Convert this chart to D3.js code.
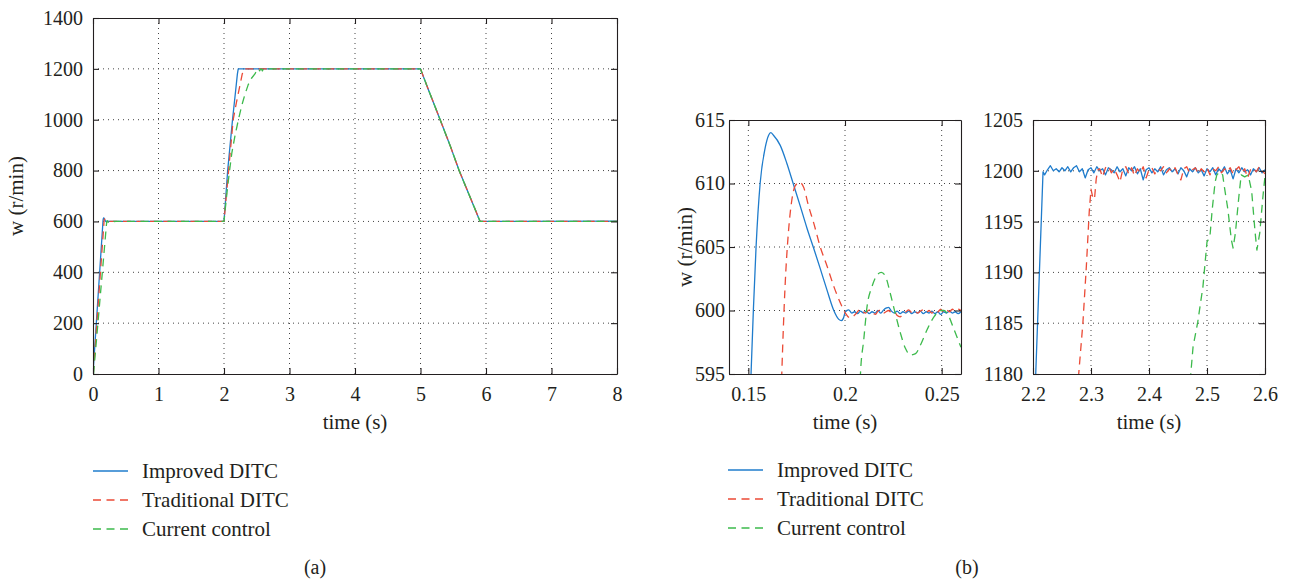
<!DOCTYPE html>
<html>
<head>
<meta charset="utf-8">
<script src="https://cdn.jsdelivr.net/npm/d3@7"></script>
<style>
  html, body { margin: 0; padding: 0; background: #fff; }
  svg { display: block; }
  text { font-family: "Liberation Serif", "DejaVu Serif", serif; fill: #231f20; font-size: 20px; }
  .legend text, .axis-title { font-size: 21px; }
</style>
</head>
<body>
<svg id="fig" width="1293" height="579"></svg>
<script>
// ---------- series names ----------
const seriesNames = ["Improved DITC", "Traditional DITC", "Current control"];

// ---------- panel (a): full speed profile, time (s) vs speed (r/min) ----------
const ticksTimeA = [0, 1, 2, 3, 4, 5, 6, 7, 8];
const ticksSpeedA = [0, 200, 400, 600, 800, 1000, 1200, 1400];

// common deceleration from 1200 to 600 r/min
const rampDownA = [
  [5.0, 1200], [5.1, 1132], [5.2, 1066], [5.3, 1000], [5.45, 900],
  [5.59, 800], [5.75, 700], [5.91, 600]
];

const improvedA = [
  [0, 0], [0.151, 595], [0.154, 605], [0.157, 610], [0.1616, 614], [0.1665, 613],
  [0.1734, 609.9], [0.1838, 604.9], [0.1942, 600], [0.1981, 599.2], [0.2019, 600],
  [0.3, 599.9], [2.0, 600], [2.056, 800], [2.13, 1000], [2.18, 1120],
  [2.2047, 1180], [2.2173, 1200],
  ...rampDownA, [8.0, 601]
];

const traditionalA = [
  [0.004, 0], [0.1673, 595], [0.1707, 606], [0.1765, 610.1], [0.1838, 606.9],
  [0.1942, 601.9], [0.2028, 599.4], [0.21, 600], [0.3, 600], [2.0, 600],
  [2.07, 800], [2.14, 1000], [2.19, 1068], [2.2788, 1180], [2.292, 1190.6],
  [2.30, 1198.2], [2.312, 1200],
  ...rampDownA, [8.0, 600]
];

const currentA = [
  [0.008, 0], [0.2055, 588], [0.208, 595], [0.2114, 600.3], [0.2188, 603],
  [0.2261, 599.7], [0.2339, 596.5], [0.2425, 598.5], [0.2512, 600], [0.2599, 597.2],
  [0.27, 597.3], [0.285, 599.8], [0.3, 600.4], [0.32, 599.8], [0.35, 600],
  [2.0, 600], [2.04, 700], [2.08, 790], [2.12, 870], [2.17, 940], [2.22, 1000],
  [2.27, 1055], [2.32, 1100], [2.37, 1138], [2.42, 1163], [2.472, 1180],
  [2.50, 1193], [2.514, 1199], [2.527, 1199.6], [2.545, 1192.4], [2.559, 1199.6],
  [2.571, 1199.6], [2.586, 1192.2], [2.60, 1199.5], [2.65, 1200],
  ...rampDownA, [8.0, 600]
];

// ---------- panel (b), left: first start-up overshoot ----------
const ticksTimeB1 = [0.15, 0.2, 0.25];
const ticksSpeedB1 = [595, 600, 605, 610, 615];

const improvedB1 = [
  [0.148, 575], [0.1514, 595], [0.1526, 600], [0.1540, 605], [0.1561, 610],
  [0.1587, 612.8], [0.1605, 613.8], [0.1616, 614], [0.1630, 613.8], [0.1665, 613.0],
  [0.1699, 611.6], [0.1734, 609.9], [0.1769, 608.2], [0.1803, 606.5], [0.1838, 604.9],
  [0.1872, 603.3], [0.1907, 601.6], [0.1942, 600.0], [0.1968, 599.3], [0.1981, 599.2],
  [0.1992, 599.4], [0.2002, 599.9], [0.2019, 600.05], [0.2035, 599.8], [0.2050, 599.9],
  [0.2065, 599.75], [0.2080, 599.95], [0.2095, 599.8], [0.2110, 599.95], [0.2125, 599.75],
  [0.2140, 599.9], [0.2155, 599.8], [0.2170, 600.0], [0.2185, 599.8], [0.2200, 600.05],
  [0.2215, 600.2], [0.2225, 600.25], [0.2240, 599.95], [0.2255, 599.8], [0.2270, 599.95],
  [0.2285, 599.75], [0.2300, 599.9], [0.2315, 599.8], [0.2330, 599.95], [0.2345, 599.75],
  [0.2360, 599.9], [0.2375, 599.8], [0.2390, 599.95], [0.2405, 599.75], [0.2420, 599.9],
  [0.2435, 599.8], [0.2450, 599.95], [0.2465, 599.75], [0.2480, 599.9], [0.2495, 599.7],
  [0.2510, 599.9], [0.2525, 599.8], [0.2540, 599.95], [0.2555, 599.8], [0.2570, 599.9],
  [0.2585, 599.75], [0.2600, 599.9]
];

const traditionalB1 = [
  [0.1655, 585], [0.1673, 595], [0.1690, 601.9], [0.1707, 606.1], [0.1725, 608.7],
  [0.1742, 609.8], [0.1765, 610.1], [0.1786, 609.7], [0.1812, 608.2], [0.1838, 606.9],
  [0.1872, 605.0], [0.1907, 603.5], [0.1942, 601.9], [0.1976, 600.6], [0.2002, 599.8],
  [0.2028, 599.4], [0.2054, 599.7], [0.2080, 600.1], [0.2095, 599.9], [0.2106, 599.8],
  [0.2120, 600.0], [0.2131, 600.05], [0.2145, 599.8], [0.2158, 599.7], [0.2170, 599.95],
  [0.2185, 600.05], [0.2200, 599.8], [0.2212, 599.9], [0.2225, 600.0], [0.2240, 599.85],
  [0.2255, 599.9], [0.2270, 599.6], [0.2285, 599.5], [0.2300, 599.7], [0.2315, 599.9],
  [0.2330, 600.05], [0.2345, 599.85], [0.2360, 600.0], [0.2375, 599.8], [0.2390, 599.95],
  [0.2405, 600.05], [0.2420, 599.85], [0.2435, 600.0], [0.2450, 599.8], [0.2465, 600.05],
  [0.2480, 599.9], [0.2495, 600.1], [0.2510, 599.85], [0.2525, 600.05], [0.2540, 599.9],
  [0.2555, 600.1], [0.2570, 599.95], [0.2585, 600.1], [0.2600, 600.0]
];

const currentB1 = [
  [0.2060, 585], [0.2080, 595], [0.2097, 597.7], [0.2114, 600.3], [0.2140, 601.9],
  [0.2166, 602.8], [0.2188, 603.0], [0.2209, 602.7], [0.2235, 601.3], [0.2261, 599.7],
  [0.2287, 598.2], [0.2313, 597.0], [0.2339, 596.5], [0.2365, 596.6], [0.2391, 597.3],
  [0.2425, 598.5], [0.2460, 599.5], [0.2495, 600.0], [0.2512, 600.0], [0.2538, 599.5],
  [0.2564, 598.5], [0.2600, 597.1]
];

// ---------- panel (b), right: arrival at 1200 r/min ----------
const ticksTimeB2 = [2.2, 2.3, 2.4, 2.5, 2.6];
const ticksSpeedB2 = [1180, 1185, 1190, 1195, 1200, 1205];

const improvedB2 = [
  [2.195, 1170], [2.2047, 1180], [2.2173, 1199.9], [2.220, 1199.6], [2.225, 1200.1],
  [2.230, 1200.5], [2.235, 1200.0], [2.240, 1200.2], [2.245, 1199.9], [2.250, 1200.3],
  [2.255, 1200.0], [2.260, 1200.4], [2.265, 1199.9], [2.270, 1200.3], [2.275, 1200.5],
  [2.280, 1199.9], [2.285, 1200.2], [2.290, 1199.3], [2.295, 1200.1], [2.300, 1200.3],
  [2.305, 1199.8], [2.310, 1200.4], [2.315, 1200.0], [2.320, 1200.2], [2.325, 1199.6],
  [2.330, 1200.3], [2.335, 1200.1], [2.340, 1199.8], [2.345, 1200.4], [2.350, 1199.9],
  [2.355, 1200.2], [2.360, 1199.5], [2.365, 1200.3], [2.370, 1200.0], [2.375, 1200.4],
  [2.380, 1199.7], [2.385, 1200.2], [2.390, 1199.1], [2.395, 1200.1], [2.400, 1200.3],
  [2.405, 1199.8], [2.410, 1200.2], [2.415, 1199.9], [2.420, 1200.4], [2.425, 1199.6],
  [2.430, 1200.1], [2.435, 1200.3], [2.440, 1199.9], [2.445, 1200.2], [2.450, 1199.7],
  [2.455, 1200.3], [2.460, 1200.0], [2.465, 1199.4], [2.470, 1200.2], [2.475, 1199.9],
  [2.480, 1200.3], [2.485, 1199.8], [2.490, 1200.1], [2.495, 1199.5], [2.500, 1200.2],
  [2.505, 1199.9], [2.510, 1200.3], [2.515, 1199.6], [2.520, 1200.2], [2.525, 1199.9],
  [2.530, 1200.4], [2.535, 1199.7], [2.540, 1200.1], [2.545, 1199.2], [2.550, 1200.2],
  [2.555, 1199.8], [2.560, 1200.3], [2.565, 1199.9], [2.570, 1200.1], [2.575, 1199.6],
  [2.580, 1200.2], [2.585, 1199.9], [2.590, 1200.3], [2.595, 1199.8], [2.600, 1200.1]
];

const traditionalB2 = [
  [2.270, 1165], [2.2788, 1180], [2.286, 1185], [2.292, 1190.6], [2.297, 1196.0],
  [2.300, 1198.2], [2.303, 1197.4], [2.306, 1197.2], [2.309, 1199.2], [2.312, 1200.1],
  [2.315, 1200.2], [2.320, 1199.4], [2.325, 1200.3], [2.330, 1200.5], [2.335, 1199.8],
  [2.340, 1200.2], [2.345, 1199.6], [2.350, 1198.9], [2.355, 1200.2], [2.360, 1200.4],
  [2.365, 1199.7], [2.370, 1200.3], [2.375, 1199.5], [2.380, 1200.2], [2.385, 1199.8],
  [2.390, 1200.4], [2.395, 1199.3], [2.400, 1200.1], [2.405, 1200.3], [2.410, 1199.7],
  [2.415, 1200.2], [2.420, 1200.0], [2.425, 1200.4], [2.430, 1199.8], [2.435, 1200.2],
  [2.440, 1199.9], [2.445, 1200.3], [2.450, 1199.6], [2.455, 1199.1], [2.460, 1200.2],
  [2.465, 1200.4], [2.470, 1199.8], [2.475, 1200.1], [2.480, 1200.3], [2.485, 1199.7],
  [2.490, 1200.2], [2.495, 1199.9], [2.500, 1200.3], [2.505, 1199.6], [2.510, 1200.2],
  [2.515, 1200.0], [2.520, 1200.4], [2.525, 1199.8], [2.530, 1200.2], [2.535, 1199.9],
  [2.540, 1200.3], [2.545, 1199.7], [2.550, 1200.1], [2.555, 1200.4], [2.560, 1199.8],
  [2.565, 1200.2], [2.570, 1199.3], [2.575, 1200.1], [2.580, 1200.3], [2.585, 1199.9],
  [2.590, 1200.4], [2.595, 1200.0], [2.600, 1199.7]
];

const currentB2 = [
  [2.465, 1170], [2.472, 1180], [2.476, 1182.7], [2.484, 1185.1], [2.493, 1188.6],
  [2.500, 1193.0], [2.505, 1193.5], [2.509, 1196.2], [2.514, 1198.9], [2.517, 1199.6],
  [2.522, 1199.9], [2.527, 1199.6], [2.530, 1198.4], [2.536, 1196.2], [2.542, 1193.2],
  [2.545, 1192.4], [2.549, 1193.9], [2.555, 1197.5], [2.559, 1199.6], [2.565, 1199.4],
  [2.571, 1199.6], [2.577, 1198.0], [2.583, 1193.9], [2.586, 1192.2], [2.591, 1193.9],
  [2.596, 1197.2], [2.600, 1199.5], [2.605, 1200.0]
];

// ---------- styling ----------
const colors = ["#1f7ccc", "#eb4a36", "#3dba4c"];
const dashed = [false, true, true];
const DASH = "8,5.5";
const INK = "#231f20";

const svg = d3.select("#fig");

function drawPanel(p) {
  const x = d3.scaleLinear().domain(p.xDomain).range([p.left, p.right]);
  const y = d3.scaleLinear().domain(p.yDomain).range([p.bottom, p.top]);
  const g = svg.append("g").attr("class", "panel-" + p.id);

  // dotted grid
  const grid = g.append("g").attr("stroke", "#444").attr("stroke-width", 1)
    .attr("stroke-dasharray", "1,4");
  grid.selectAll("line.vx")
    .data(p.xTicks.filter(v => x(v) > p.left + 1 && x(v) < p.right - 1))
    .join("line").attr("class", "vx")
    .attr("x1", d => x(d)).attr("x2", d => x(d))
    .attr("y1", p.top).attr("y2", p.bottom);
  grid.selectAll("line.hy")
    .data(p.yTicks.filter(v => y(v) < p.bottom - 1 && y(v) > p.top + 1))
    .join("line").attr("class", "hy")
    .attr("x1", p.left).attr("x2", p.right)
    .attr("y1", d => y(d)).attr("y2", d => y(d));

  // clipped traces
  const clipId = "clip-" + p.id;
  svg.append("clipPath").attr("id", clipId).append("rect")
    .attr("x", p.left).attr("y", p.top)
    .attr("width", p.right - p.left).attr("height", p.bottom - p.top);

  const line = d3.line().x(d => x(d[0])).y(d => y(d[1]));
  if (p.curve) line.curve(p.curve);

  g.append("g").attr("clip-path", `url(#${clipId})`)
    .selectAll("path").data(p.series).join("path")
    .attr("d", (s) => line(s))
    .attr("fill", "none")
    .attr("stroke", (s, i) => colors[i])
    .attr("stroke-width", 1.3)
    .attr("stroke-linejoin", "round")
    .attr("stroke-dasharray", (s, i) => dashed[i] ? DASH : null);

  // axes with inward ticks on all four sides
  const fmt = d => String(d);
  const styleAxis = sel => {
    sel.attr("font-family", null).attr("font-size", null);
    sel.select(".domain").attr("stroke", INK).attr("stroke-width", 1.1);
    sel.selectAll(".tick line").attr("stroke", INK).attr("stroke-width", 1.1);
  };
  g.append("g").attr("transform", `translate(0,${p.bottom})`)
    .call(d3.axisBottom(x).tickValues(p.xTicks).tickFormat(fmt)
      .tickSizeInner(-6).tickSizeOuter(0).tickPadding(13))
    .call(styleAxis);
  g.append("g").attr("transform", `translate(0,${p.top})`)
    .call(d3.axisTop(x).tickValues(p.xTicks).tickFormat("")
      .tickSizeInner(-6).tickSizeOuter(0))
    .call(styleAxis);
  g.append("g").attr("transform", `translate(${p.left},0)`)
    .call(d3.axisLeft(y).tickValues(p.yTicks).tickFormat(fmt)
      .tickSizeInner(-6).tickSizeOuter(0).tickPadding(p.yPad))
    .call(styleAxis);
  g.append("g").attr("transform", `translate(${p.right},0)`)
    .call(d3.axisRight(y).tickValues(p.yTicks).tickFormat("")
      .tickSizeInner(-6).tickSizeOuter(0))
    .call(styleAxis);
  g.selectAll(".tick text").attr("fill", INK);

  // axis titles
  g.append("text").attr("class", "axis-title")
    .attr("x", (p.left + p.right) / 2).attr("y", 429)
    .attr("text-anchor", "middle").text("time (s)");
  if (p.yTitleX != null) {
    g.append("text").attr("class", "axis-title")
      .attr("transform", `translate(${p.yTitleX},${(p.top + p.bottom) / 2}) rotate(-90)`)
      .attr("text-anchor", "middle").text("w (r/min)");
  }
}

function drawLegend(x0, x1, tx, ys) {
  const lg = svg.append("g").attr("class", "legend");
  const rows = lg.selectAll("g").data(seriesNames).join("g");
  rows.append("line")
    .attr("x1", x0).attr("x2", x1)
    .attr("y1", (d, i) => ys[i]).attr("y2", (d, i) => ys[i])
    .attr("stroke", (d, i) => colors[i]).attr("stroke-width", 1.4)
    .attr("stroke-dasharray", (d, i) => dashed[i] ? DASH : null);
  rows.append("text")
    .attr("x", tx).attr("y", (d, i) => ys[i]).attr("dy", "0.35em")
    .text(d => d);
}

// panel (a)
drawPanel({
  id: "a", left: 93, right: 617, top: 18, bottom: 374,
  xDomain: [0, 8], yDomain: [0, 1400],
  xTicks: ticksTimeA, yTicks: ticksSpeedA, yPad: 10, yTitleX: 23,
  series: [improvedA, traditionalA, currentA]
});

// panel (b), start-up detail
drawPanel({
  id: "b1", left: 729, right: 961, top: 120, bottom: 374,
  xDomain: [0.14, 0.26], yDomain: [595, 615],
  xTicks: ticksTimeB1, yTicks: ticksSpeedB1, yPad: 4, yTitleX: 692,
  curve: d3.curveMonotoneX,
  series: [improvedB1, traditionalB1, currentB1]
});

// panel (b), speed-step detail
drawPanel({
  id: "b2", left: 1033, right: 1265, top: 120, bottom: 374,
  xDomain: [2.2, 2.6], yDomain: [1180, 1205],
  xTicks: ticksTimeB2, yTicks: ticksSpeedB2, yPad: 10, yTitleX: null,
  series: [improvedB2, traditionalB2, currentB2]
});

drawLegend(93, 128, 142, [471, 500, 529]);
drawLegend(728, 763, 777, [470, 499, 528]);

// sub-figure captions
svg.append("text").attr("x", 315).attr("y", 574).attr("text-anchor", "middle").text("(a)");
svg.append("text").attr("x", 967).attr("y", 574).attr("text-anchor", "middle").text("(b)");
</script>
</body>
</html>
